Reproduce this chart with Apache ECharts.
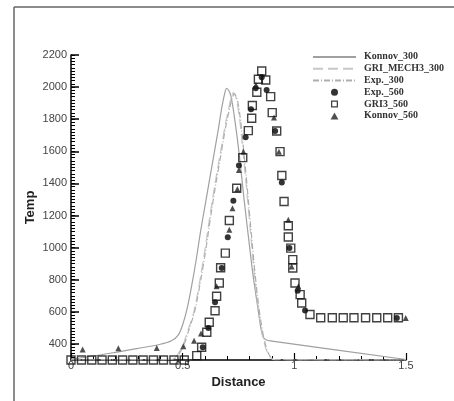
<!DOCTYPE html>
<html>
<head>
<meta charset="utf-8">
<script src="https://cdn.jsdelivr.net/npm/echarts@6/dist/echarts.min.js"></script>
<style>html,body{margin:0;padding:0;background:#fff;}#c{width:454px;height:401px;}</style>
</head>
<body>
<div id="c"></div>
<script>
// ---- data (Distance, Temp) ----
const konnov300 = [[0,305],[0.1,325],[0.2,348],[0.3,372],[0.4,398],[0.45,420],[0.48,455],[0.5,520],[0.52,620],[0.54,760],[0.56,920],[0.58,1100],[0.6,1260],[0.62,1420],[0.64,1580],[0.66,1740],[0.675,1870],[0.688,1960],[0.697,1993],[0.715,1950],[0.735,1780],[0.755,1560],[0.775,1300],[0.795,1060],[0.815,830],[0.835,640],[0.85,500],[0.86,445],[0.875,425],[0.9,418],[1.5,303]];
const gri300 = [[0,300],[0.44,302],[0.47,320],[0.5,390],[0.52,470],[0.55,600],[0.58,820],[0.6,990],[0.62,1180],[0.645,1400],[0.665,1560],[0.69,1760],[0.705,1860],[0.718,1940],[0.727,1966],[0.74,1930],[0.755,1800],[0.77,1600],[0.785,1380],[0.8,1150],[0.815,920],[0.83,720],[0.845,560],[0.86,440],[0.875,360],[0.89,320],[0.91,302],[1.5,300]];
const exp300 = [[0,300],[0.445,302],[0.475,322],[0.505,392],[0.525,475],[0.555,610],[0.585,830],[0.605,1000],[0.625,1190],[0.65,1410],[0.67,1570],[0.695,1770],[0.71,1865],[0.722,1935],[0.731,1958],[0.744,1925],[0.759,1795],[0.774,1595],[0.789,1375],[0.804,1140],[0.819,910],[0.834,710],[0.849,550],[0.864,435],[0.879,358],[0.894,318],[0.914,302],[1.5,300]];
const exp560 = [[0.59,379],[0.615,500],[0.645,659],[0.675,873],[0.702,1064],[0.727,1292],[0.752,1511],[0.782,1688],[0.806,1862],[0.827,1993],[0.854,2061],[0.876,1982],[0.914,1727],[0.944,1406],[0.978,997],[1.015,732],[1.048,609],[1.459,562]];
const gri560 = [[0,300],[0.047,300],[0.093,300],[0.139,300],[0.185,300],[0.231,300],[0.277,300],[0.323,300],[0.369,300],[0.414,300],[0.461,300],[0.507,300],[0.563,327],[0.585,379],[0.608,473],[0.619,535],[0.645,607],[0.652,697],[0.664,780],[0.67,875],[0.691,966],[0.709,1169],[0.742,1370],[0.769,1561],[0.794,1729],[0.809,1806],[0.812,1885],[0.832,1968],[0.839,2049],[0.854,2100],[0.872,2044],[0.894,1941],[0.901,1841],[0.921,1727],[0.936,1598],[0.944,1449],[0.954,1287],[0.973,1136],[0.973,1066],[0.984,997],[0.993,925],[0.993,873],[1.003,780],[1.026,707],[1.033,655],[1.07,583],[1.118,563],[1.17,563],[1.219,563],[1.267,563],[1.319,563],[1.369,563],[1.418,563],[1.466,563]];
const konnov560 = [[0.052,365],[0.212,373],[0.384,375],[0.503,385],[0.551,420],[0.582,465],[0.652,759],[0.709,1111],[0.723,1246],[0.745,1366],[0.752,1484],[0.772,1598],[0.828,2013],[0.909,1810],[0.931,1598],[0.973,1174],[0.988,883],[1.018,759],[1.499,562]];
const yTickLabels = [400,600,800,1000,1200,1400,1600,1800,2000,2200];
const xTickLabels = [0,0.5,1,1.5];

const chart = echarts.init(document.getElementById('c'), null, {renderer:'canvas'});
const sans = "'Liberation Sans', Arial, sans-serif";
const serif = "'Liberation Serif', 'Times New Roman', serif";
const hideSym = {color:'rgba(0,0,0,0)',borderColor:'rgba(0,0,0,0)',borderWidth:0,opacity:0};
chart.setOption({
  animation:false,
  backgroundColor:'#fff',
  grid:{left:71,right:48,top:55,bottom:41,containLabel:false},
  graphic:[
    {type:'line',shape:{x1:14,y1:7,x2:14,y2:401},style:{stroke:'#666',lineWidth:1.5},z:100},
    {type:'line',shape:{x1:14,y1:7,x2:454,y2:7},style:{stroke:'#666',lineWidth:1.5},z:100}
  ],
  legend:{
    orient:'vertical',left:307,top:46,itemWidth:43,itemHeight:7,itemGap:0,symbolKeepAspect:true,
    textStyle:{fontFamily:serif,fontWeight:'bold',fontSize:10,color:'#333',lineHeight:11.8,padding:[0,0,0,3]},
    data:[
      {name:'Konnov_300',itemStyle:hideSym},
      {name:'GRI_MECH3_300',itemStyle:hideSym},
      {name:'Exp._300',itemStyle:hideSym},
      {name:'Exp._560'},
      {name:'GRI3_560',icon:'path://M0,0H10V10H0Z M1.8,1.8V8.2H8.2V1.8Z',itemStyle:{color:'#111',borderWidth:0}},
      {name:'Konnov_560',icon:'path://M5,1L9.5,9H0.5Z',itemStyle:{color:'#222',borderWidth:0}}
    ]
  },
  xAxis:[{
    type:'value',min:0,max:1.5,interval:0.5,
    name:'Distance',nameLocation:'middle',nameGap:13,
    nameTextStyle:{fontFamily:sans,fontWeight:'bold',fontSize:13,color:'#222'},
    axisLine:{onZero:false,lineStyle:{color:'#000',width:1.5}},
    axisTick:{inside:true,length:7,lineStyle:{color:'#000',width:1.2}},
    minorTick:{show:true,splitNumber:5,length:4,lineStyle:{color:'#000',width:1}},
    axisLabel:{margin:0,fontFamily:sans,fontSize:11,color:'#444',
      customValues:xTickLabels,formatter:v=>String(v)},
    splitLine:{show:false}
  }],
  yAxis:[{
    type:'value',min:300,max:2200,interval:20,
    name:'Temp',nameLocation:'middle',nameGap:34,
    nameTextStyle:{fontFamily:sans,fontWeight:'bold',fontSize:13,color:'#222'},
    axisLine:{onZero:false,lineStyle:{color:'#000',width:1.5}},
    axisTick:{inside:true,length:4,lineStyle:{color:'#000',width:1}},
    axisLabel:{show:false},
    splitLine:{show:false}
  },{
    type:'value',min:300,max:2200,position:'left',interval:100,
    axisLine:{show:false},
    axisTick:{show:true,inside:true,length:8,customValues:yTickLabels,lineStyle:{color:'#000',width:1.5}},
    axisLabel:{margin:4,fontFamily:sans,fontSize:11,color:'#444',customValues:yTickLabels,formatter:v=>String(v)},
    splitLine:{show:false}
  }],
  series:[
    {name:'Konnov_300',type:'line',data:konnov300,symbol:'none',smooth:0.3,lineStyle:{color:'#a0a0a0',width:1.2},itemStyle:{color:'#a0a0a0'},z:2},
    {name:'GRI_MECH3_300',type:'line',data:gri300,symbol:'none',smooth:0.3,lineStyle:{color:'#c8c8c8',width:1.2,type:[10,5]},itemStyle:{color:'#c8c8c8'},z:2},
    {name:'Exp._300',type:'line',data:exp300,symbol:'none',smooth:0.3,lineStyle:{color:'#adadad',width:1.2,type:[6,2,1,2]},itemStyle:{color:'#adadad'},z:2},
    {name:'Exp._560',type:'scatter',data:exp560,symbol:'circle',symbolSize:6,itemStyle:{color:'#000'},z:4},
    {name:'GRI3_560',type:'scatter',data:gri560,symbol:'rect',symbolSize:8,itemStyle:{color:'rgba(255,255,255,0)',borderColor:'#111',borderWidth:1.4},z:5},
    {name:'Konnov_560',type:'scatter',data:konnov560,symbol:'triangle',symbolSize:6,itemStyle:{color:'#222'},z:4}
  ]
});
</script>
</body>
</html>
